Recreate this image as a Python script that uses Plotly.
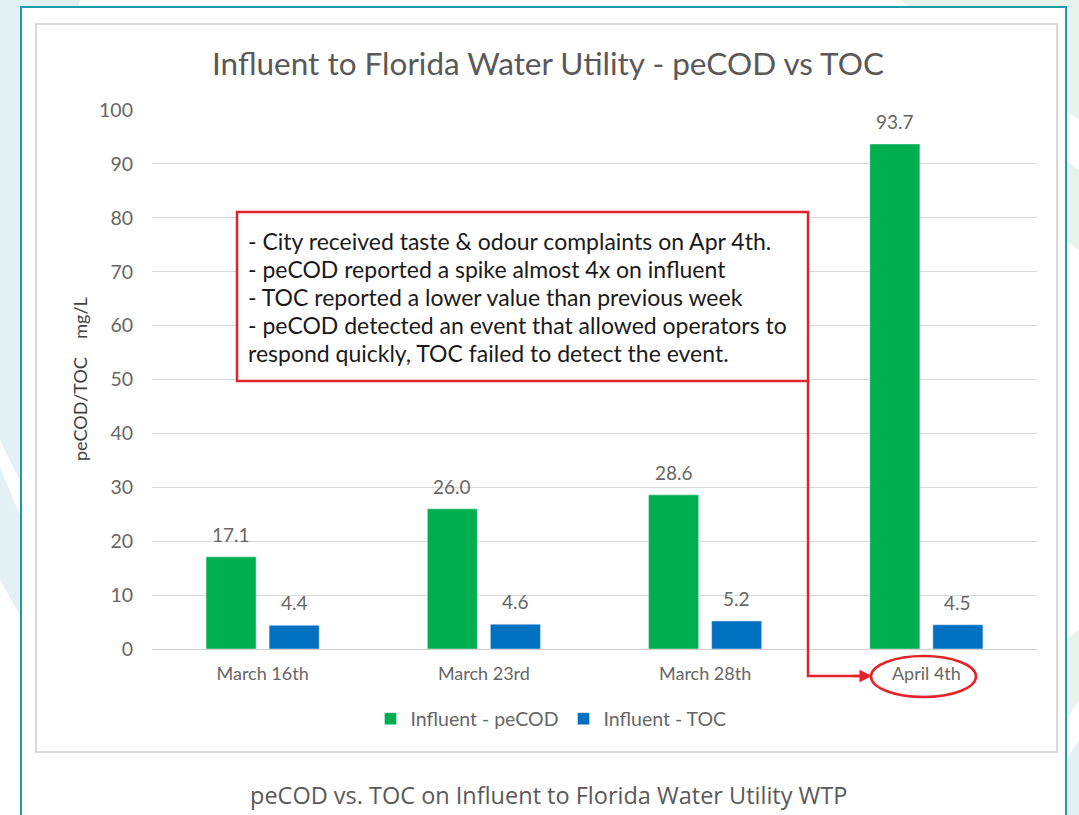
import plotly.graph_objects as go

# ---- data ----
categories = ["March 16th", "March 23rd", "March 28th", "April 4th"]
pecod = [17.1, 26.0, 28.6, 93.7]
toc = [4.4, 4.6, 5.2, 4.5]
series_names = ["Influent - peCOD", "Influent - TOC"]
note_lines = [
    "- City received taste &amp; odour complaints on Apr 4th.",
    "- peCOD reported a spike almost 4x on influent",
    "- TOC reported a lower value than previous week",
    "- peCOD detected an event that allowed operators to",
    "respond quickly, TOC failed to detect the event.",
]
title_text = "Influent to Florida Water Utility - peCOD vs TOC"
caption_text = "peCOD vs. TOC on Influent to Florida Water Utility WTP"
ytitle_text = "peCOD/TOC\u00a0\u00a0\u00a0\u00a0mg/L"

# ---- layout helpers (pixel -> paper) ----
W, H = 1079, 815
L, R, T, B = 152, 1037, 110, 649


def px(x):
    return (x - L) / (R - L)


def py(y):
    return (B - y) / (B - T)


GREEN = "#00b050"
BLUE = "#0070c0"
GRAY = "#595959"
LGRAY = "#666666"
RED = "#e3242b"
FONT = "Lato"

BAR_SHIFT = 31.5  # pixel offset of each bar from its category centre

fig = go.Figure()
fig.add_trace(go.Bar(x=categories, y=pecod, name=series_names[0], marker_color=GREEN))
fig.add_trace(go.Bar(x=categories, y=toc, name=series_names[1], marker_color=BLUE))

annotations = []
# value labels
for vals, shift in ((pecod, -BAR_SHIFT), (toc, BAR_SHIFT)):
    for c, v in zip(categories, vals):
        annotations.append(dict(x=c, y=v, xref="x", yref="y", text=f"{v:.1f}",
                                showarrow=False, xshift=shift, yshift=9,
                                xanchor="center", yanchor="bottom",
                                font=dict(family=FONT, size=19, color=LGRAY)))

shapes = []
# faint background decorations
shapes.append(dict(type="path", xref="paper", yref="paper", layer="below",
                   path=f"M{px(0)},{py(0)} L{px(80)},{py(0)} L{px(21)},{py(483)} L{px(0)},{py(440)} Z",
                   fillcolor="#e4f1f4", line=dict(width=0)))
shapes.append(dict(type="path", xref="paper", yref="paper", layer="below",
                   path=f"M{px(0)},{py(467)} L{px(21)},{py(517)} L{px(21)},{py(617)} L{px(0)},{py(580)} Z",
                   fillcolor="#e4f1f4", line=dict(width=0)))
shapes.append(dict(type="path", xref="paper", yref="paper", layer="below",
                   path=f"M{px(900)},{py(0)} L{px(1079)},{py(0)} L{px(1079)},{py(120)} Z",
                   fillcolor="#e6f4ec", line=dict(width=0)))
shapes.append(dict(type="path", xref="paper", yref="paper", layer="below",
                   path=f"M{px(1066)},{py(160)} L{px(1079)},{py(170)} L{px(1079)},{py(250)} L{px(1066)},{py(240)} Z",
                   fillcolor="#e6f4ec", line=dict(width=0)))
shapes.append(dict(type="path", xref="paper", yref="paper", layer="below",
                   path=f"M{px(1066)},{py(640)} L{px(1079)},{py(630)} L{px(1079)},{py(700)} L{px(1066)},{py(720)} Z",
                   fillcolor="#e6f4ec", line=dict(width=0)))
shapes.append(dict(type="path", xref="paper", yref="paper", layer="below",
                   path=f"M{px(1066)},{py(760)} L{px(1079)},{py(740)} L{px(1079)},{py(815)} L{px(1066)},{py(815)} Z",
                   fillcolor="#e4f1f4", line=dict(width=0)))
# teal outer frame
shapes.append(dict(type="rect", xref="paper", yref="paper", layer="below",
                   x0=px(21), x1=px(1066), y0=py(830), y1=py(7),
                   fillcolor="white", line=dict(color="#1c9cab", width=2)))
# gray chart border
shapes.append(dict(type="rect", xref="paper", yref="paper", layer="below",
                   x0=px(36), x1=px(1057), y0=py(752), y1=py(24),
                   fillcolor="white", line=dict(color="#d9d9d9", width=2)))
# red note box
shapes.append(dict(type="rect", xref="paper", yref="paper", layer="above",
                   x0=px(237), x1=px(808), y0=py(381), y1=py(212),
                   fillcolor="white", line=dict(color=RED, width=2.5)))
# arrow segments
shapes.append(dict(type="path", xref="paper", yref="paper", layer="above",
                   path=f"M{px(808)},{py(381)} L{px(808)},{py(676)} L{px(860)},{py(676)}",
                   line=dict(color=RED, width=2.5)))
# ellipse around April 4th
shapes.append(dict(type="circle", xref="paper", yref="paper", layer="above",
                   x0=px(871), x1=px(976), y0=py(697), y1=py(656),
                   line=dict(color=RED, width=2.5)))

line_ys = [241, 269, 297, 325, 353]
for txt, yy in zip(note_lines, line_ys):
    annotations.append(dict(xref="paper", yref="paper", x=px(246), y=py(yy),
                            xanchor="left", yanchor="middle", showarrow=False, text=txt,
                            font=dict(family=FONT, size=23, color="#1a1a1a")))
# arrow head
annotations.append(dict(xref="paper", yref="paper", x=px(872), y=py(676), text="",
                        showarrow=True, ax=-20, ay=0, arrowhead=2, arrowsize=1,
                        arrowwidth=2.5, arrowcolor=RED, standoff=0))
# y axis title
annotations.append(dict(xref="paper", yref="paper", x=px(80), y=py(379), text=ytitle_text,
                        textangle=-90, showarrow=False, xanchor="center", yanchor="middle",
                        font=dict(family=FONT, size=18, color="#404040")))
# caption
annotations.append(dict(xref="paper", yref="paper", x=px(548), y=py(795), text=caption_text,
                        showarrow=False, xanchor="center", yanchor="middle",
                        font=dict(family="Open Sans", size=23.5, color=GRAY)))

fig.update_layout(
    width=W, height=H,
    margin=dict(l=L, r=W - R, t=T, b=H - B),
    paper_bgcolor="white", plot_bgcolor="rgba(0,0,0,0)",
    font=dict(family=FONT, color=GRAY),
    title=dict(text=title_text, xref="paper", x=px(548), xanchor="center",
               yref="container", y=1 - 64 / H, yanchor="middle",
               font=dict(family=FONT, size=31.5, color=GRAY)),
    barmode="group", bargap=0.43, bargroupgap=0.206,
    showlegend=True,
    legend=dict(orientation="h", x=px(551), xanchor="center", y=py(719), yanchor="middle",
                font=dict(family=FONT, size=19.5, color=LGRAY), bgcolor="rgba(0,0,0,0)",
                traceorder="normal"),
    shapes=shapes, annotations=annotations,
)
fig.update_yaxes(range=[0, 100], dtick=10, showgrid=True, gridcolor="#d9d9d9", gridwidth=1,
                 zeroline=False, ticks="", ticklabelstandoff=18,
                 tickfont=dict(family=FONT, size=19.5, color=LGRAY), fixedrange=True)
fig.update_xaxes(showline=True, linecolor="#d0d0d0", linewidth=1, ticks="",
                 ticklabelstandoff=8, tickfont=dict(family=FONT, size=18, color=LGRAY))

fig.write_html("out.html", config={"displayModeBar": False},
               post_script="document.body.style.margin='0';document.body.style.padding='0';")
